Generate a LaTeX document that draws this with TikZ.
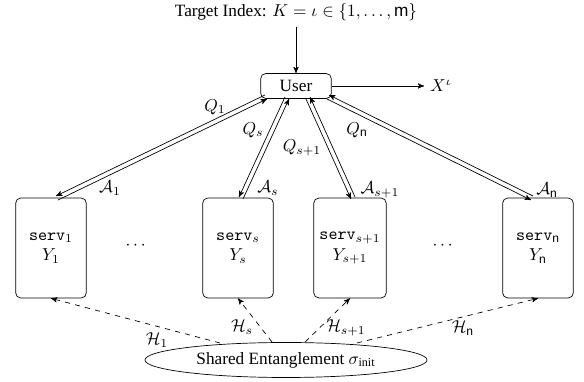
\documentclass[tikz,border=0pt]{standalone}
\usepackage{amsmath}
\usepackage{fontspec}
\setmainfont{Liberation Serif}
\setsansfont{Liberation Sans}
\usetikzlibrary{arrows,calc,shapes.geometric}

\begin{document}
\begin{tikzpicture}[->,>=stealth',x=0.58pt,y=-0.58pt,thin]
\tikzstyle{box}=[draw,rounded corners=3pt,minimum width=41pt,align=center]
\tikzstyle{server}=[box,minimum height=58pt]
\tikzstyle{usr}=[box,minimum height=14.5pt,inner sep=1pt]
\tikzstyle{ent}=[draw,ellipse,inner sep=0pt,minimum width=163.6pt,minimum height=20.3pt]
\useasboundingbox (0,0) rectangle (584,382);
\node (target) at (296,12) {Target Index: $K = \iota \in \{1,\ldots,\mathsf{m}\}$};
\node[usr] (user) at (296,86) {User};
\node (out) at (441,86) {$X^{\iota}$};
\node[server] (s1) at (51,248) {\texttt{serv}$_1$\\$Y_1$};
\node[server] (ss) at (238,248) {\texttt{serv}$_s$\\$Y_s$};
\node[server] (sp) at (350,248) {\texttt{serv}$_{s+1}$\\$Y_{s+1}$};
\node[server] (sn) at (538,248) {\texttt{serv}$_\mathsf{n}$\\$Y_\mathsf{n}$};
\node (dots1) at (137,246) {$\cdots$};
\node (dots2) at (444,246) {$\cdots$};
\node[ent] (ent) at (286,360) {Shared Entanglement $\sigma_{\text{init}}$};
% ends of the links
\coordinate (t1) at (57,198);  \coordinate (u1) at (266,97);
\coordinate (ts) at (241,198); \coordinate (us) at (287,98);
\coordinate (tp) at (353,198); \coordinate (up) at (308,98);
\coordinate (tn) at (532,198); \coordinate (un) at (328,97);
\coordinate (h1) at (220,343); \coordinate (hs) at (272,342);
\coordinate (hp) at (305,342); \coordinate (hn) at (357,343);

\draw (target) -- (user);
\draw (user) -- (out);
\foreach \sa/\ua in {t1/u1,ts/us,tp/up,tn/un}{
  \draw ($(\sa)!1.3pt!-90:(\ua)$) -- ($(\ua)!1.3pt!90:(\sa)$);
  \draw ($(\ua)!1.3pt!-90:(\sa)$) -- ($(\sa)!1.3pt!90:(\ua)$);
}
\draw[dashed] (h1) -- (s1.south);
\draw[dashed] (hs) -- (ss.south);
\draw[dashed] (hp) -- (sp.south);
\draw[dashed] (hn) -- (sn.south);

\node (q1) at (215,107) {$Q_1$};
\node (a1) at (110,188) {$\mathcal{A}_1$};
\node (qs) at (253,130) {$Q_s$};
\node (as) at (268,188) {$\mathcal{A}_s$};
\node (qp) at (302,148) {$Q_{s+1}$};
\node (ap) at (380,190) {$\mathcal{A}_{s+1}$};
\node (qn) at (357,130) {$Q_\mathsf{n}$};
\node (an) at (547,190) {$\mathcal{A}_\mathsf{n}$};
\node (g1) at (157,340) {$\mathcal{H}_1$};
\node (gs) at (242,327) {$\mathcal{H}_s$};
\node (gp) at (346,328) {$\mathcal{H}_{s+1}$};
\node (gn) at (463,328) {$\mathcal{H}_\mathsf{n}$};
\end{tikzpicture}
\end{document}
